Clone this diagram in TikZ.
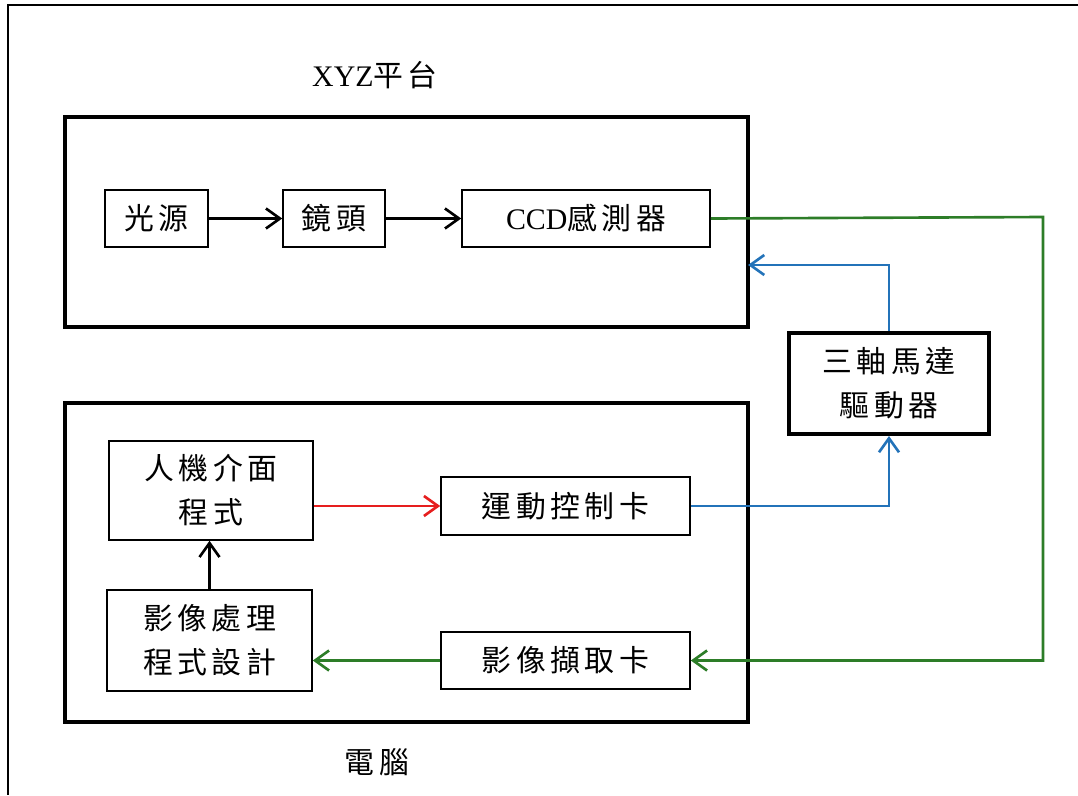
\documentclass[tikz,border=0pt]{standalone}
\usepackage{fontspec}
\setmainfont{Liberation Serif}
\newfontfamily\cjk[LetterSpace=15]{Noto Sans CJK TC}
\usetikzlibrary{arrows.meta}
\definecolor{lgreen}{RGB}{45,125,40}
\definecolor{lblue}{RGB}{35,115,185}
\definecolor{lred}{RGB}{230,30,30}
\tikzset{
  txt/.style={font=\fontsize{17}{25}\selectfont, align=center, inner sep=0pt},
  bx/.style 2 args={draw, line width=0.9pt, txt, minimum width=#1*0.02cm, minimum height=#2*0.02cm},
  frame/.style={draw, line width=2.3pt},
  conn/.style={line width=1.5pt, -{Straight Barb[length=2.8mm,width=4mm,line width=1.5pt]}},
}
\begin{document}
\begin{tikzpicture}[x=0.02cm,y=-0.02cm]
\useasboundingbox (0,0) rectangle (1078,795);
% outer partial frame
\draw[line width=1.6pt] (1078,5) -- (8,5) -- (8,795);
% group frames
\node[frame, minimum width=683*0.02cm, minimum height=210*0.02cm, inner sep=0pt] (xyz) at (406.5,222) {};
\node[frame, minimum width=683*0.02cm, minimum height=319*0.02cm, inner sep=0pt] (pc) at (406.5,562.5) {};
\node[txt] (xyzlabel) at (375,75) {XYZ{\cjk 平台}};
\node[txt] (pclabel) at (377,762) {\cjk 電腦};
% boxes
\node[bx={103}{57}] (light) at (156.5,218.5) {\cjk 光源};
\node[bx={102}{57}] (lens) at (334,218.5) {\cjk 鏡頭};
\node[bx={248}{57}] (ccd) at (586,218.5) {CCD{\cjk 感測器}};
\node[bx={200}{101}, line width=2.3pt] (drv) at (889,383.5) {\cjk 三軸馬達\\\cjk 驅動器};
\node[bx={204}{99}] (hmi) at (211,490.5) {\cjk 人機介面\\\cjk 程式};
\node[bx={249}{58}] (motion) at (565.5,506) {\cjk 運動控制卡};
\node[bx={205}{101}] (imgp) at (209.5,640.5) {\cjk 影像處理\\\cjk 程式設計};
\node[bx={249}{57}] (grab) at (565.5,660.5) {\cjk 影像擷取卡};
% connectors
\draw[conn] (light) -- (lens);
\draw[conn] (lens) -- (ccd);
\draw[conn, lred] (hmi.east |- motion.west) -- (motion.west);
\draw[conn] (imgp.north) -- (imgp.north |- hmi.south);
\draw[conn, lgreen] (grab.west) -- (imgp.east |- grab.west);
\coordinate (g1) at (1043,217);
\draw[conn, lgreen] (ccd.east) -- (g1) |- (grab.east);
\draw[conn, lblue] (motion.east) -| (drv.south);
\coordinate (b1) at (748,265);
\draw[conn, lblue] (drv.north) |- (b1);
\end{tikzpicture}
\end{document}
